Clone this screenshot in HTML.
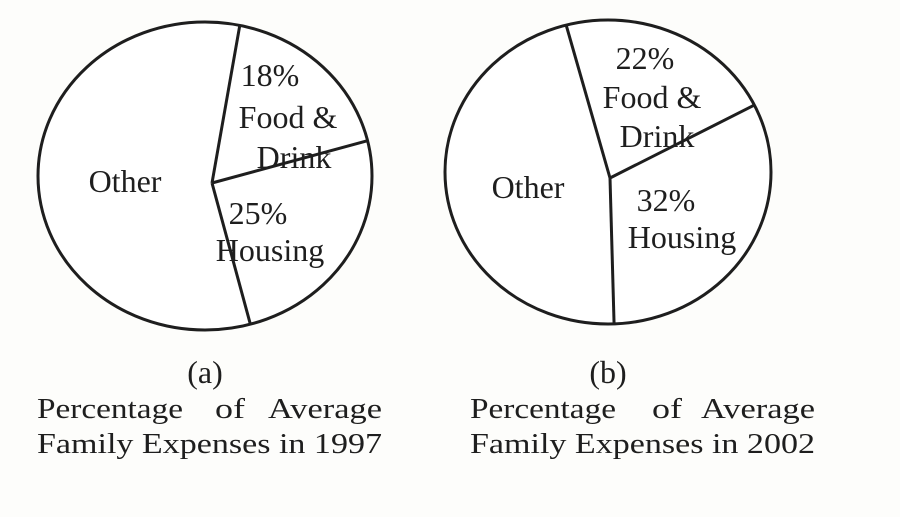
<!DOCTYPE html>
<html><head><meta charset="utf-8"><style>
html,body{margin:0;padding:0;background:#fdfdfb;}
svg{display:block;}
text{font-family:"Liberation Serif",serif;fill:#1e1e1e;}
</style></head><body>
<svg id="chart" width="900" height="517" viewBox="0 0 900 517">
<text x="205" y="383" font-size="32" text-anchor="middle">(a)</text>
<g font-size="29">
<text x="37" y="418" textLength="146" lengthAdjust="spacingAndGlyphs">Percentage</text>
<text x="215" y="418" textLength="30" lengthAdjust="spacingAndGlyphs">of</text>
<text x="268" y="418" textLength="114" lengthAdjust="spacingAndGlyphs">Average</text>
</g>
<text x="37" y="453" font-size="29" textLength="345" lengthAdjust="spacingAndGlyphs">Family Expenses in 1997</text>
<text x="608" y="383" font-size="32" text-anchor="middle">(b)</text>
<g font-size="29">
<text x="470" y="418" textLength="146" lengthAdjust="spacingAndGlyphs">Percentage</text>
<text x="652" y="418" textLength="30" lengthAdjust="spacingAndGlyphs">of</text>
<text x="701" y="418" textLength="114" lengthAdjust="spacingAndGlyphs">Average</text>
</g>
<text x="470" y="453" font-size="29" textLength="345" lengthAdjust="spacingAndGlyphs">Family Expenses in 2002</text>
</svg>
<script>
const categories = ["Food & Drink", "Housing", "Other"];
const values1997 = [18, 25, 57];
const values2002 = [22, 32, 46];
const years = ["1997", "2002"];

const NS = "http://www.w3.org/2000/svg";
const svg = document.getElementById("chart");
const pies = [
  {cx:205, cy:176, rx:167, ry:154, ox:212, oy:183, start:10, vals:values1997,
   labels:[["18%",270,86],["Food &",288,128],["Drink",294,168],["25%",258,224],["Housing",270,261],["Other",125,192]]},
  {cx:608, cy:172, rx:163, ry:152, ox:610, oy:178, start:-16, vals:values2002,
   labels:[["22%",645,69],["Food &",652,108],["Drink",657,147],["32%",666,211],["Housing",682,248],["Other",528,198]]}
];
function edge(p, deg){
  const a = deg*Math.PI/180;
  const dx = Math.sin(a), dy = -Math.cos(a);
  const X = p.ox-p.cx, Y = p.oy-p.cy;
  const A = dx*dx/(p.rx*p.rx)+dy*dy/(p.ry*p.ry);
  const B = 2*(X*dx/(p.rx*p.rx)+Y*dy/(p.ry*p.ry));
  const C = X*X/(p.rx*p.rx)+Y*Y/(p.ry*p.ry)-1;
  const t = (-B+Math.sqrt(B*B-4*A*C))/(2*A);
  return [p.ox+dx*t, p.oy+dy*t];
}
pies.forEach((p, pi) => {
  const e = document.createElementNS(NS,"ellipse");
  e.setAttribute("cx",p.cx); e.setAttribute("cy",p.cy);
  e.setAttribute("rx",p.rx); e.setAttribute("ry",p.ry);
  e.setAttribute("fill","#fff"); e.setAttribute("stroke","#1e1e1e"); e.setAttribute("stroke-width","3");
  
  
  svg.appendChild(e);
  const total = p.vals.reduce((s,v)=>s+v,0);
  let ang = p.start;
  for (let i=0;i<p.vals.length;i++){
    const pt = edge(p, ang);
    const l = document.createElementNS(NS,"line");
    l.setAttribute("x1",p.ox); l.setAttribute("y1",p.oy);
    l.setAttribute("x2",pt[0]); l.setAttribute("y2",pt[1]);
    l.setAttribute("stroke","#1e1e1e"); l.setAttribute("stroke-width","3");
    
    
    svg.appendChild(l);
    ang += p.vals[i]/total*360;
  }
  p.labels.forEach((lb, j) => {
    const t = document.createElementNS(NS,"text");
    t.setAttribute("x",lb[1]); t.setAttribute("y",lb[2]);
    t.setAttribute("font-size","32");
    t.setAttribute("text-anchor","middle");
    let txt = lb[0];
    if (j===0) txt = p.vals[0] + "%";
    if (j===3) txt = p.vals[1] + "%";
    t.textContent = txt;
    
    
    svg.appendChild(t);
  });
});
</script>
</body></html>
